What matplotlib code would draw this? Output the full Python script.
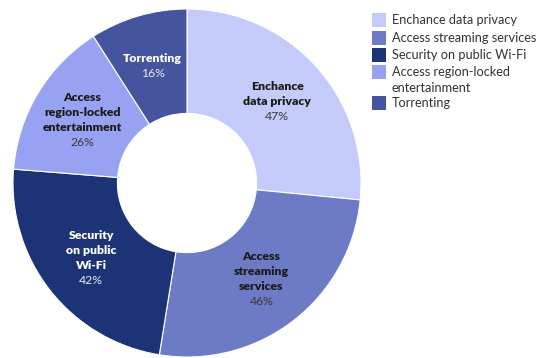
import matplotlib
matplotlib.use("Agg")
import matplotlib.pyplot as plt
from matplotlib.patches import Rectangle
import numpy as np

plt.rcParams['font.family'] = ['Lato', 'DejaVu Sans']

# Reasons for using a VPN (share of respondents, %)
categories = [
    "Enchance data privacy",
    "Access streaming services",
    "Security on public Wi-Fi",
    "Access region-locked entertainment",
    "Torrenting",
]
values = [47, 46, 42, 26, 16]
slice_labels = [
    ["Enchance", "data privacy"],
    ["Access", "streaming", "services"],
    ["Security", "on public", "Wi-Fi"],
    ["Access", "region-locked", "entertainment"],
    ["Torrenting"],
]
legend_labels = [
    "Enchance data privacy",
    "Access streaming services",
    "Security on public Wi-Fi",
    "Access region-locked",
    "Torrenting",
]
legend_extra = {3: "entertainment"}
colors = ["#C4CBFB", "#6D7AC6", "#1C3376", "#98A2F2", "#44549F"]
name_colors = ["#1a1a1a", "#1a1a1a", "white", "#1a1a1a", "white"]
pct_colors = ["#3a3a3a", "#3a3a3a", "#e6e8f2", "#3a3a3a", "#e6e8f2"]

W, H, DPI = 542, 358, 100
fig = plt.figure(figsize=(W / DPI, H / DPI), dpi=DPI)

# donut centre / radius in pixels
cx, cy, R = 187, 183, 174
ax = fig.add_axes([(cx - R) / W, (H - cy - R) / H, 2 * R / W, 2 * R / H])

wedges, _ = ax.pie(
    values, colors=colors, startangle=90, counterclock=False, radius=1,
    wedgeprops=dict(width=0.6, edgecolor="white", linewidth=0.8),
)
ax.set_xlim(-1, 1)
ax.set_ylim(-1, 1)
ax.set_aspect("equal")
ax.axis("off")

line_pt = 15 * 72 / DPI  # line spacing in points
label_r = 0.70
for w, lines, val, nc, pc in zip(wedges, slice_labels, values, name_colors, pct_colors):
    mid = np.deg2rad((w.theta1 + w.theta2) / 2)
    x, y = label_r * np.cos(mid), label_r * np.sin(mid)
    all_lines = lines + [f"{val}%"]
    n = len(all_lines)
    for i, txt in enumerate(all_lines):
        off = ((n - 1) / 2 - i) * line_pt
        is_pct = i == n - 1
        ax.annotate(
            txt, (x, y), xytext=(0, off), textcoords="offset points",
            ha="center", va="center", fontsize=8.8,
            fontweight="normal" if is_pct else "heavy",
            color=pc if is_pct else nc,
        )

# legend on the right
patch_x, patch_w = 372, 14
text_x = 392
rows = [20, 38, 55, 72, 103]
for k, (lab, col, yc) in enumerate(zip(legend_labels, colors, rows)):
    fig.patches.append(Rectangle(
        (patch_x / W, (H - yc - patch_w / 2) / H), patch_w / W, patch_w / H,
        transform=fig.transFigure, facecolor=col, edgecolor="none"))
    fig.text(text_x / W, (H - yc) / H, lab, ha="left", va="center",
             fontsize=9.2, color="#333333")
    if k in legend_extra:
        fig.text(text_x / W, (H - yc - 16) / H, legend_extra[k], ha="left",
                 va="center", fontsize=9.2, color="#333333")

fig.savefig("out.png", dpi=DPI)
